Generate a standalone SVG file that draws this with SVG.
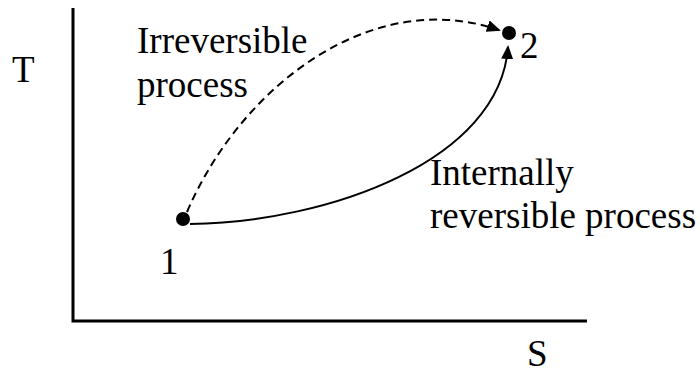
<svg xmlns="http://www.w3.org/2000/svg" width="700" height="373" viewBox="0 0 700 373">
<style>
.t{font-family:'Liberation Serif','Times New Roman','DejaVu Serif',serif;font-size:37px;fill:#000}
.axis{stroke:#000;stroke-width:3;fill:none}
.conn{stroke:#000;stroke-width:2;fill:none}
.dash{stroke-dasharray:8 5}
.pt{fill:#000}
</style>
<defs>
<marker id="arr" markerUnits="userSpaceOnUse" markerWidth="14" markerHeight="12" refX="12" refY="6" orient="auto" viewBox="0 0 14 12">
<path d="M0,0 L14,6 L0,12 z" fill="#000"/>
</marker>
</defs>
<g id="axes">
<path class="axis" d="M73,8 V321 H587"/>
<text class="t" x="12" y="82">T</text>
<text class="t" x="527" y="366">S</text>
</g>
<g id="connectors">
<path class="conn" d="M190,224 C330,222 500,160 508,47" marker-end="url(#arr)"/>
<path class="conn dash" d="M187,212 C240,88 370,-14 499,30" marker-end="url(#arr)"/>
</g>
<g id="node1">
<circle class="pt" cx="183" cy="219" r="7"/>
<text class="t" x="160" y="274">1</text>
</g>
<g id="node2">
<circle class="pt" cx="509" cy="33" r="7"/>
<text class="t" x="520" y="58">2</text>
</g>
<g id="label-irreversible">
<text class="t" x="137" y="53">Irreversible</text>
<text class="t" x="137" y="97">process</text>
</g>
<g id="label-internal">
<text class="t" x="430" y="185">Internally</text>
<text class="t" x="430" y="228">reversible process</text>
</g>
</svg>
